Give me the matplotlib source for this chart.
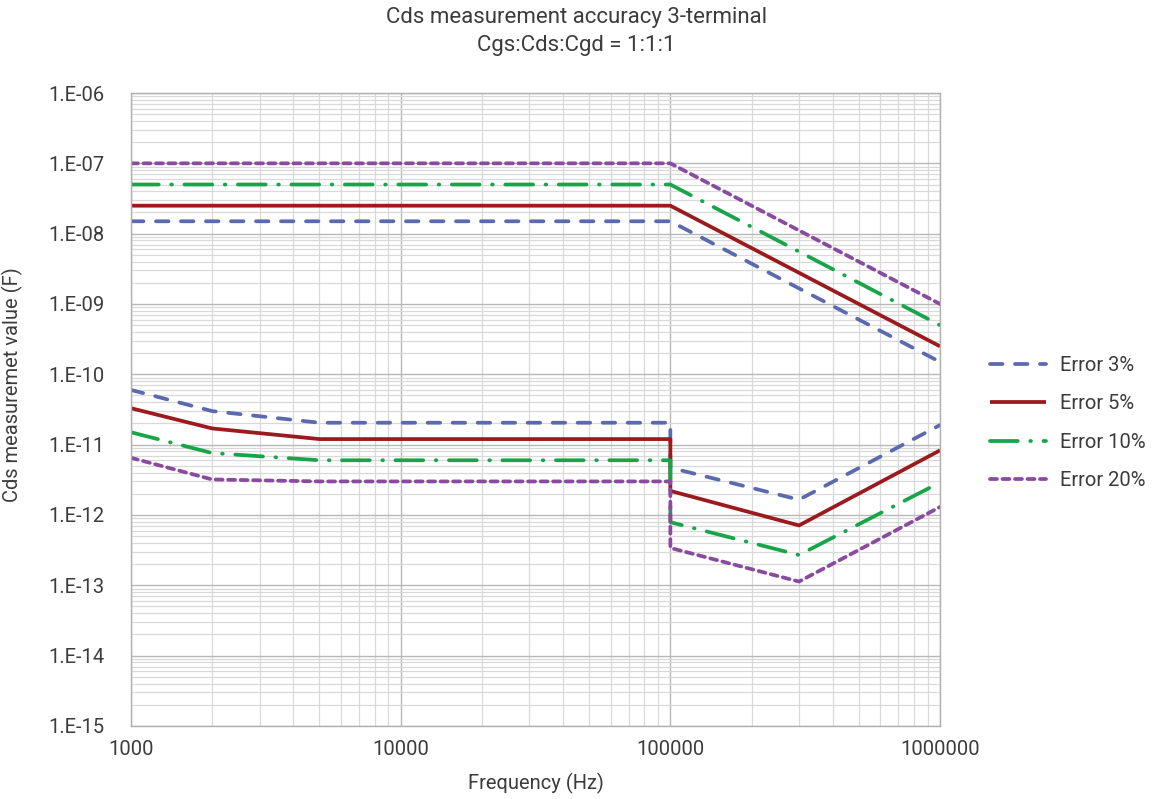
import math
import matplotlib
matplotlib.use("Agg")
import matplotlib.pyplot as plt
from matplotlib.ticker import LogLocator, FixedLocator, FuncFormatter, NullFormatter

plt.rcParams['font.family'] = ['Roboto', 'DejaVu Sans']
plt.rcParams['lines.scale_dashes'] = False

# Upper limits (flat to 100 kHz, then 1/f^2)
upper_freq = [1000, 100000, 1000000]
upper_3 = [1.5e-8, 1.5e-8, 1.5e-10]
upper_5 = [2.5e-8, 2.5e-8, 2.5e-10]
upper_10 = [5e-8, 5e-8, 5e-10]
upper_20 = [1e-7, 1e-7, 1e-9]

# Lower limits
lower_freq = [1000, 2000, 5000, 100000, 100000, 300000, 1000000]
lower_3 = [6.0e-11, 3.0e-11, 2.05e-11, 2.05e-11, 4.7e-12, 1.65e-12, 1.9e-11]
lower_5 = [3.3e-11, 1.7e-11, 1.2e-11, 1.2e-11, 2.2e-12, 7.1e-13, 8.3e-12]
lower_10 = [1.5e-11, 7.6e-12, 6.0e-12, 6.0e-12, 7.9e-13, 2.7e-13, 2.9e-12]
lower_20 = [6.5e-12, 3.2e-12, 3.0e-12, 3.0e-12, 3.4e-13, 1.13e-13, 1.3e-12]

x_ticks = [1000, 10000, 100000, 1000000]
y_ticks = [1e-15, 1e-14, 1e-13, 1e-12, 1e-11, 1e-10, 1e-9, 1e-8, 1e-7, 1e-6]

labels = ["Error 3%", "Error 5%", "Error 10%", "Error 20%"]
colors = ["#5b6aae", "#9a1a1e", "#18a54a", "#8a4a9f"]
styles = [(0, (9, 9)), "-", (0, (20, 9, 0.5, 9)), (0, (5, 4))]

TXT = '#3c3c3c'

fig = plt.figure(figsize=(11.53, 7.99), dpi=100)
ax = fig.add_axes([0.1136, 0.0914, 0.7017, 0.7922])

uppers = [upper_3, upper_5, upper_10, upper_20]
lowers = [lower_3, lower_5, lower_10, lower_20]
lw = 2.7
handles = []
for up, lo, c, s, lab in zip(uppers, lowers, colors, styles, labels):
    h, = ax.plot(upper_freq, up, color=c, linestyle=s, lw=lw,
                 dash_capstyle='round', solid_capstyle='butt', label=lab)
    ax.plot(lower_freq, lo, color=c, linestyle=s, lw=lw,
            dash_capstyle='round', solid_capstyle='butt')
    handles.append(h)

ax.set_xscale('log')
ax.set_yscale('log')
ax.set_xlim(x_ticks[0], x_ticks[-1])
ax.set_ylim(y_ticks[0], y_ticks[-1])

ax.xaxis.set_major_locator(FixedLocator(x_ticks))
ax.yaxis.set_major_locator(FixedLocator(y_ticks))
ax.xaxis.set_minor_locator(LogLocator(base=10, subs=range(2, 10), numticks=30))
ax.yaxis.set_minor_locator(LogLocator(base=10, subs=range(2, 10), numticks=100))
ax.xaxis.set_minor_formatter(NullFormatter())
ax.yaxis.set_minor_formatter(NullFormatter())
ax.xaxis.set_major_formatter(FuncFormatter(lambda v, p: "%d" % round(v)))

def yfmt(v, p):
    e = int(round(math.log10(v)))
    return "1.E-%02d" % (-e)
ax.yaxis.set_major_formatter(FuncFormatter(yfmt))

ax.grid(True, which='major', color='#b8b8b8', lw=1.0)
ax.grid(True, which='minor', color='#d9d9d9', lw=0.9)
ax.set_axisbelow(True)
ax.tick_params(which='both', length=0, labelsize=14.5, colors=TXT)
ax.tick_params(axis='y', pad=19)
ax.tick_params(axis='x', pad=10)
for sp in ax.spines.values():
    sp.set_color('#b0b0b0')
    sp.set_linewidth(1.0)

ax.set_xlabel("Frequency (Hz)", fontsize=14.5, color=TXT)
ax.xaxis.set_label_coords(0.5, -0.074)
ax.set_ylabel("Cds measuremet value (F)", fontsize=14.5, color=TXT)
ax.yaxis.set_label_coords(-0.134, 0.539)

fig.text(0.5, 1 - 18 / 799, "Cds measurement accuracy 3-terminal",
         ha='center', va='center', fontsize=16, color=TXT)
fig.text(0.5, 1 - 46 / 799, "Cgs:Cds:Cgd = 1:1:1",
         ha='center', va='center', fontsize=16, color=TXT)

fig.legend(handles=handles, labels=labels, loc='center left',
           bbox_to_anchor=(0.8586, 0.4706), frameon=False, fontsize=14.5,
           handlelength=2.8, handletextpad=0.7, labelspacing=0.95,
           borderpad=0, borderaxespad=0, labelcolor=TXT)

fig.savefig("out.png", dpi=100)
